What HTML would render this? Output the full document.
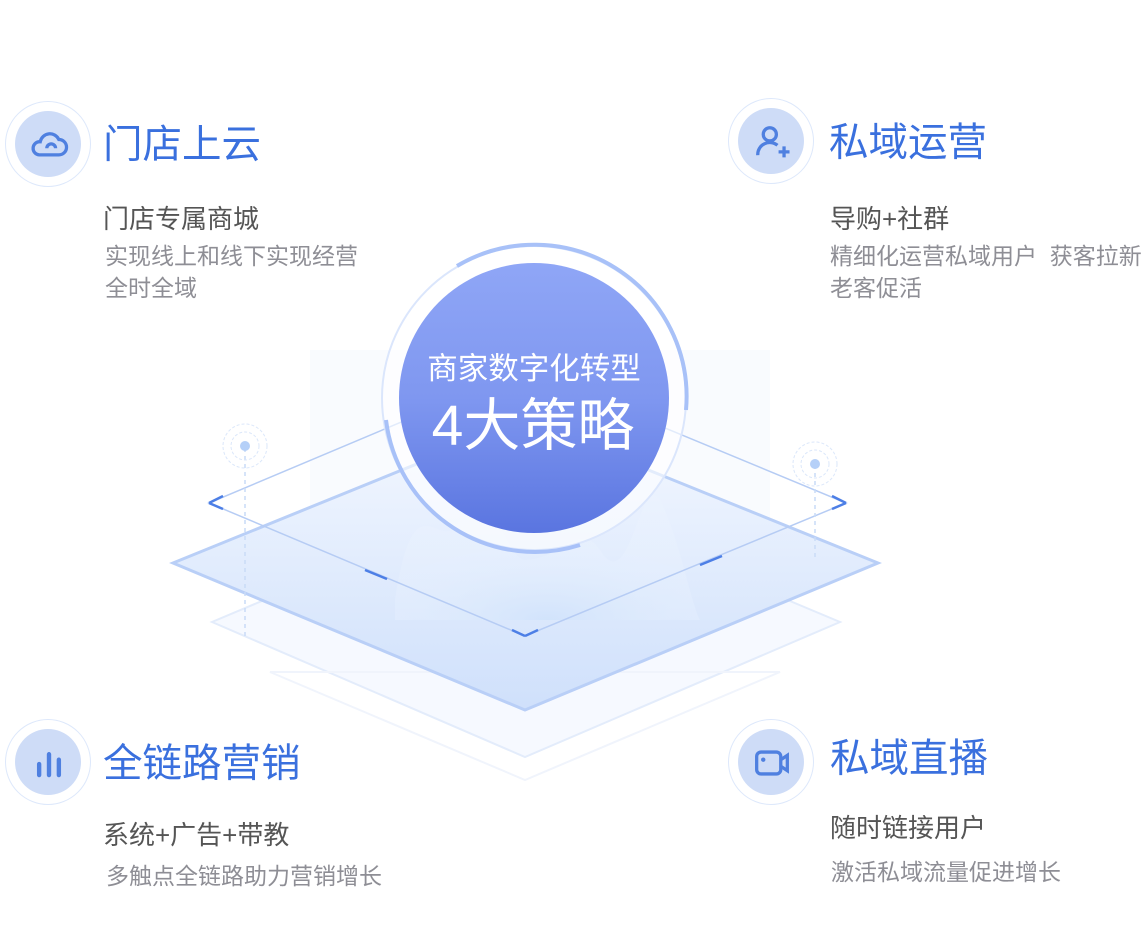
<!DOCTYPE html>
<html><head><meta charset="utf-8"><style>
body{margin:0;width:1144px;height:950px;background:#fff;position:relative;overflow:hidden;font-family:"Liberation Sans","Noto Sans CJK SC",sans-serif}
.t{position:absolute;white-space:nowrap}
.h{color:#3a70de;font-size:39.5px;line-height:42px}
.s{color:#555;font-size:26px;line-height:30px}
.d{color:#8e8e95;font-size:23px;line-height:32px}
.ic{position:absolute;width:86px;height:86px;border-radius:50%;border:1.5px solid #dde8fb;box-sizing:border-box}
.ic i{position:absolute;left:9px;top:9px;width:66px;height:66px;border-radius:50%;background:#cedcf7}
.ic svg{position:absolute;left:20px;top:20px}
</style></head><body>
<svg width="1144" height="950" style="position:absolute;left:0;top:0">
<defs>
<linearGradient id="cg" x1="0" y1="0" x2="0" y2="1"><stop offset="0" stop-color="#8fa6f6"/><stop offset="0.5" stop-color="#7f97f0"/><stop offset="1" stop-color="#5a75e0"/></linearGradient>
<linearGradient id="pg" x1="0" y1="0" x2="0" y2="1"><stop offset="0" stop-color="#f4f8ff"/><stop offset="1" stop-color="#cfe0fb"/></linearGradient>
<radialGradient id="mg" cx="0.5" cy="1" r="0.6"><stop offset="0" stop-color="#cfe2fb"/><stop offset="1" stop-color="#eef5ff" stop-opacity="0.3"/></radialGradient>
</defs>
<rect x="310" y="350" width="460" height="240" fill="#f9fbfe"/>
<polygon points="212,622 525,757 840,622 525,490" fill="#f6f9ff" stroke="#e3ecfb" stroke-width="2"/>
<polygon points="270,672 525,780 780,672" fill="none" stroke="#f0f4fc" stroke-width="2"/>
<polygon points="173,563 525,710 878,563 525,420" fill="url(#pg)" stroke="#b9cff7" stroke-width="3"/>
<path d="M395,600 C415,470 440,560 460,520 C480,450 505,560 525,560 C560,560 580,520 600,550 C630,600 640,470 660,500 C680,540 690,600 700,620 L395,620Z" fill="url(#mg)" opacity="0.8"/>
<polygon points="209,503 525,636 846,503 525,370" fill="none" stroke="#b6ccf4" stroke-width="1.5"/>
<path d="M209,503 l14,-7 M209,503 l14,6 M846,503 l-14,-7 M846,503 l-14,6 M525,636 l-13,-6 M525,636 l13,-6 M365,570 l22,9 M700,565 l22,-9" stroke="#4d7fe6" stroke-width="2.5"/>
<line x1="245" y1="448" x2="245" y2="640" stroke="#c9dbf7" stroke-width="1.5" stroke-dasharray="4 4"/>
<line x1="815" y1="465" x2="815" y2="560" stroke="#c9dbf7" stroke-width="1.5" stroke-dasharray="4 4"/>
<circle cx="245" cy="446" r="22" fill="none" stroke="#dbe7fa" stroke-dasharray="3 2"/><circle cx="245" cy="446" r="14" fill="none" stroke="#dbe7fa" stroke-dasharray="3 2"/><circle cx="245" cy="446" r="5" fill="#b5d0f8"/>
<circle cx="815" cy="464" r="22" fill="none" stroke="#dbe7fa" stroke-dasharray="3 2"/><circle cx="815" cy="464" r="14" fill="none" stroke="#dbe7fa" stroke-dasharray="3 2"/><circle cx="815" cy="464" r="5" fill="#b5d0f8"/>
<circle cx="534" cy="398" r="152" fill="#fff" fill-opacity="0.6" stroke="#dbe6fc" stroke-width="2"/>
<path d="M457,266 A152,152 0 0 1 686,410" fill="none" stroke="#a8c1f8" stroke-width="4"/>
<path d="M386,420 A150,150 0 0 0 580,545" fill="none" stroke="#a8c1f8" stroke-width="4"/>
<circle cx="534" cy="398" r="135" fill="url(#cg)"/>
<text x="534" y="379" text-anchor="middle" fill="#fff" font-size="30.5" font-family="Liberation Sans,Noto Sans CJK SC,sans-serif">商家数字化转型</text>
<text x="533" y="445" text-anchor="middle" fill="#fff" font-size="57" font-family="Liberation Sans,Noto Sans CJK SC,sans-serif">4大策略</text>
</svg>

<div class="ic" style="left:5px;top:101px"><i></i><svg width="46" height="46" viewBox="0 0 42 42"><path d="M12,30 h18 a7,7 0 0 0 0,-14 a9,9 0 0 0 -17,2 a6,6 0 0 0 -1,12 z M19,24 a4,4 0 0 1 8,0" fill="none" stroke="#4f80e0" stroke-width="3"/></svg></div>
<div class="t h" style="left:103px;top:124px">门店上云</div>
<div class="t s" style="left:103px;top:204px">门店专属商城</div>
<div class="t d" style="left:105px;top:240px">实现线上和线下实现经营<br>全时全域</div>

<div class="ic" style="left:728px;top:98px"><i></i><svg width="46" height="46" viewBox="0 0 42 42"><circle cx="19" cy="14" r="6" fill="none" stroke="#4f80e0" stroke-width="3"/><path d="M8,33 a11,11 0 0 1 18,-9 M27,30 h10 M32,25 v10" fill="none" stroke="#4f80e0" stroke-width="3"/></svg></div>
<div class="t h" style="left:829px;top:122px">私域运营</div>
<div class="t s" style="left:830px;top:204px">导购+社群</div>
<div class="t d" style="left:830px;top:240px">精细化运营私域用户&nbsp; 获客拉新<br>老客促活</div>

<div class="ic" style="left:5px;top:719px"><i></i><svg width="46" height="46" viewBox="0 0 42 42"><path d="M12,32 v-10 M21,32 v-19 M30,32 v-14" stroke="#4f80e0" stroke-width="4" stroke-linecap="round"/></svg></div>
<div class="t h" style="left:103px;top:743px">全链路营销</div>
<div class="t s" style="left:103px;top:820px">系统+广告+带教</div>
<div class="t d" style="left:106px;top:860px">多触点全链路助力营销增长</div>

<div class="ic" style="left:728px;top:719px"><i></i><svg width="46" height="46" viewBox="0 0 42 42"><rect x="7" y="11" width="22" height="20" rx="4" fill="none" stroke="#4f80e0" stroke-width="3"/><path d="M29,18 l6,-4 v14 l-6,-4" fill="none" stroke="#4f80e0" stroke-width="3"/><circle cx="13" cy="18" r="2" fill="#4f80e0"/></svg></div>
<div class="t h" style="left:830px;top:738px">私域直播</div>
<div class="t s" style="left:830px;top:813px">随时链接用户</div>
<div class="t d" style="left:831px;top:856px">激活私域流量促进增长</div>
</body></html>
